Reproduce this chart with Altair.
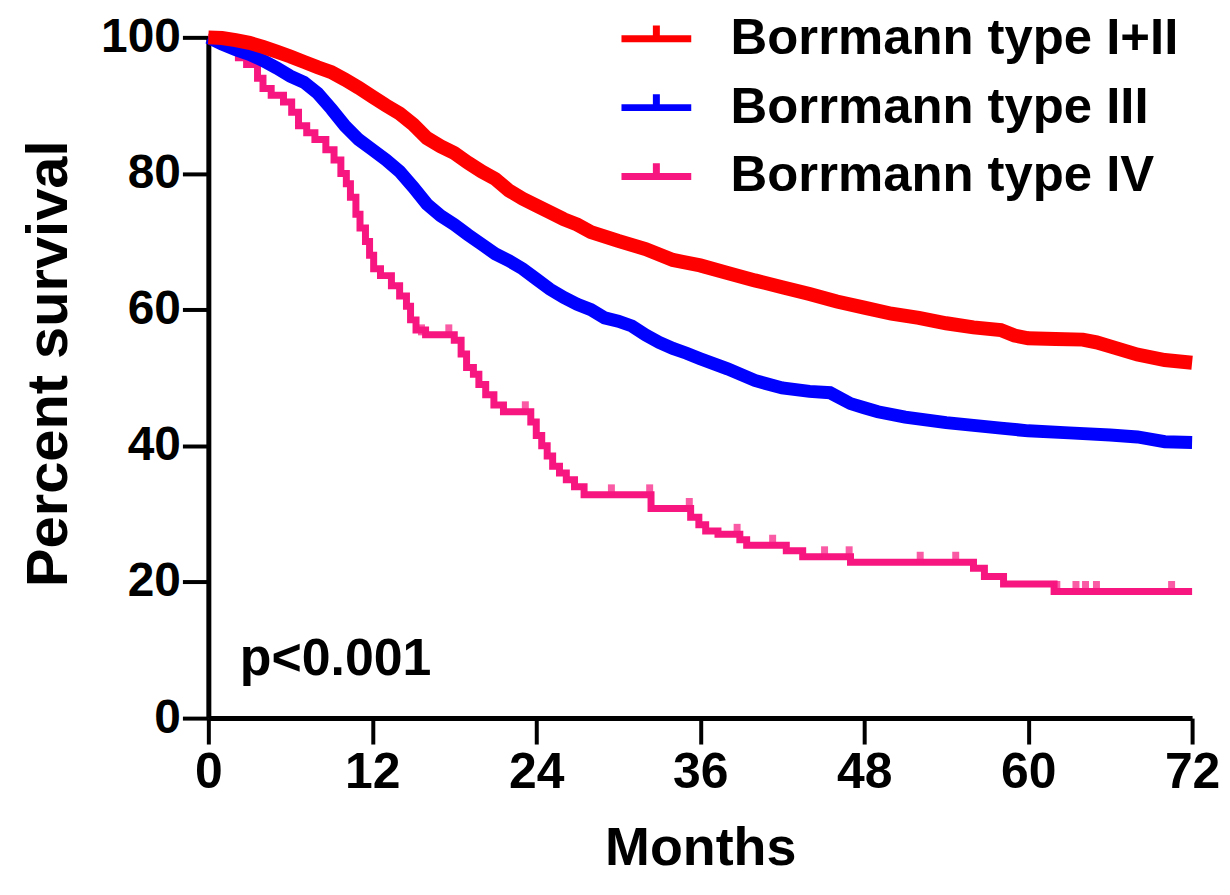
import altair as alt
import pandas as pd

groups = ["Borrmann type I+II", "Borrmann type III", "Borrmann type IV"]
colors = ["#FF0000", "#0000FF", "#F7157F"]

red_m = [0, 1, 2, 3, 4, 5, 6, 7, 8, 9, 10, 11, 12, 13, 14, 15, 16, 17, 18, 19, 20, 21, 22, 23, 24, 25, 26,
         27, 28, 30, 32, 34, 36, 38, 40, 42, 44, 46, 48, 50, 52, 54, 56, 58, 59, 60, 62, 64, 65, 66, 68, 70, 72]
red_v = [100, 99.9, 99.6, 99.2, 98.6, 97.9, 97.2, 96.4, 95.6, 94.9, 93.8, 92.6, 91.3, 90.0, 88.8, 87.2, 85.2,
         84.0, 83.0, 81.6, 80.3, 79.2, 77.5, 76.3, 75.3, 74.3, 73.3, 72.5, 71.4, 70.1, 68.9, 67.3, 66.5, 65.4,
         64.3, 63.3, 62.3, 61.2, 60.3, 59.4, 58.8, 58.0, 57.4, 57.0, 56.2, 55.8, 55.7, 55.6, 55.2, 54.6, 53.4,
         52.6, 52.2]

blue_m = [0, 1, 2, 3, 4, 5, 6, 7, 8, 9, 10, 11, 12, 13, 14, 15, 16, 17, 18, 19, 20, 21, 22, 23, 24, 25, 26,
          27, 28, 29, 30, 31, 32, 33, 34, 35, 36, 38, 40, 42, 44, 45.5, 47, 48, 49, 51, 54, 56, 58, 60, 63, 66,
          68, 70, 72]
blue_v = [100, 99, 98.2, 97.5, 96.6, 95.5, 94.3, 93.4, 91.8, 89.5, 87, 85, 83.5, 82, 80.3, 78, 75.5, 73.8,
          72.5, 71, 69.6, 68.2, 67.2, 66, 64.5, 63, 61.8, 60.8, 60, 58.8, 58.3, 57.6, 56.3, 55.2, 54.3, 53.6,
          52.8, 51.3, 49.6, 48.5, 48, 47.8, 46.2, 45.6, 45, 44.2, 43.4, 43, 42.6, 42.2, 41.9, 41.6, 41.3, 40.6,
          40.5]

pink_m = [0, 1.5, 2.2, 2.8, 3.6, 4.0, 4.6, 5.5, 6.1, 6.6, 7.2, 7.8, 8.6, 9.2, 9.7, 10.1, 10.4, 10.8, 11.1,
          11.5, 11.8, 12.1, 12.6, 13.4, 14.0, 14.5, 14.8, 15.2, 15.9, 18.0, 18.5, 18.9, 19.4, 19.8, 20.3, 20.9,
          21.6, 23.6, 24.0, 24.4, 24.8, 25.2, 25.7, 26.2, 26.8, 27.5, 32.4, 35.3, 35.9, 36.4, 37.3, 38.9, 39.4,
          42.3, 43.5, 47.0, 56.0, 56.8, 58.2, 61.9, 72]
pink_v = [100, 98.5, 97, 96, 94, 92.5, 91.5, 90.5, 89, 87, 86, 85, 83.5, 82, 80, 78.5, 76.5, 74, 72, 70, 68,
          66, 65, 63.5, 62, 60.5, 58.5, 57, 56.3, 55.5, 53.5, 51.5, 50.5, 49, 47.5, 46, 45, 43.5, 41.5, 40,
          38.5, 37, 36, 35, 34, 32.8, 30.8, 29.5, 28.4, 27.5, 27, 26.2, 25.4, 24.6, 23.7, 22.9, 22, 20.8, 19.7,
          18.6, 18.6]

pink_cens_m = [15.6, 17.6, 23.2, 29.5, 32.3, 35.2, 38.7, 41.3, 45.1, 46.9, 52.1, 54.7, 62.1, 63.5, 64.2,
               65.0, 70.5]
pink_cens_v = [56.3, 56.3, 45.0, 32.8, 32.8, 30.8, 27.0, 25.4, 23.7, 23.7, 22.9, 22.9, 18.6, 18.6, 18.6,
               18.6, 18.6]

p_text = "p<0.001"
p_pos = (2.3, 6.3)

FONT = "Liberation Sans"

red_df = pd.DataFrame({"month": red_m, "pct": red_v, "group": groups[0]})
blue_df = pd.DataFrame({"month": blue_m, "pct": blue_v, "group": groups[1]})
pink_df = pd.DataFrame({"month": pink_m, "pct": pink_v, "group": groups[2]})
cens = pd.DataFrame({"month": pink_cens_m, "pct": pink_cens_v, "group": groups[2]})
ann = pd.DataFrame({"month": [p_pos[0]], "pct": [p_pos[1]], "label": [p_text]})

xs = alt.Scale(domain=[0, 72], nice=False)
ys = alt.Scale(domain=[0, 100], nice=False)
cs = alt.Scale(domain=groups, range=colors)

legend = alt.Legend(
    orient="none", legendX=411, legendY=-37, title=None,
    symbolType="M-1,0H1M0,0V-0.38", symbolSize=4900, symbolStrokeWidth=7, symbolOpacity=1,
    labelFont=FONT, labelFontWeight="bold", labelFontSize=51, labelColor="black",
    labelOffset=36, rowPadding=5, padding=0, labelLimit=800)

x_axis = alt.Axis(values=[0, 12, 24, 36, 48, 60, 72], title="Months", titlePadding=24, labelFlush=False)
y_axis = alt.Axis(values=[0, 20, 40, 60, 80, 100], title="Percent survival", titlePadding=22,
                  titleFontSize=58, titleY=327)

color = alt.Color("group:N", scale=cs, legend=legend)

line_pink = alt.Chart(pink_df).mark_line(interpolate="step-after", strokeWidth=7).encode(
    x=alt.X("month:Q", scale=xs, axis=x_axis),
    y=alt.Y("pct:Q", scale=ys, axis=y_axis),
    color=color,
)

ticks = alt.Chart(cens).mark_tick(orient="vertical", size=11, thickness=7, yOffset=-5).encode(
    x="month:Q", y="pct:Q", color=color
)

line_blue = alt.Chart(blue_df).mark_line(strokeWidth=13).encode(x="month:Q", y="pct:Q", color=color)
line_red = alt.Chart(red_df).mark_line(strokeWidth=14).encode(x="month:Q", y="pct:Q", color=color)

ptxt = alt.Chart(ann).mark_text(
    align="left", baseline="alphabetic", font=FONT, fontWeight="bold", fontSize=52, color="black"
).encode(x="month:Q", y="pct:Q", text="label:N")

chart = alt.layer(line_pink, ticks, line_blue, line_red, ptxt).properties(
    width=987, height=683,
    autosize=alt.AutoSizeParams(type="none"),
    padding={"left": 201, "top": 28, "right": 30, "bottom": 170},
).configure_view(stroke=None).configure_axis(
    grid=False, domainColor="black", domainWidth=5, tickColor="black", tickWidth=4, tickSize=26,
    labelFont=FONT, labelFontWeight="bold", labelFontSize=50, labelColor="black", labelPadding=4,
    titleFont=FONT, titleFontWeight="bold", titleFontSize=54, titleColor="black",
).configure_axisY(labelPadding=2, labelFontSize=48)

chart.save("out.html", embed_options={"renderer": "svg", "actions": False})
